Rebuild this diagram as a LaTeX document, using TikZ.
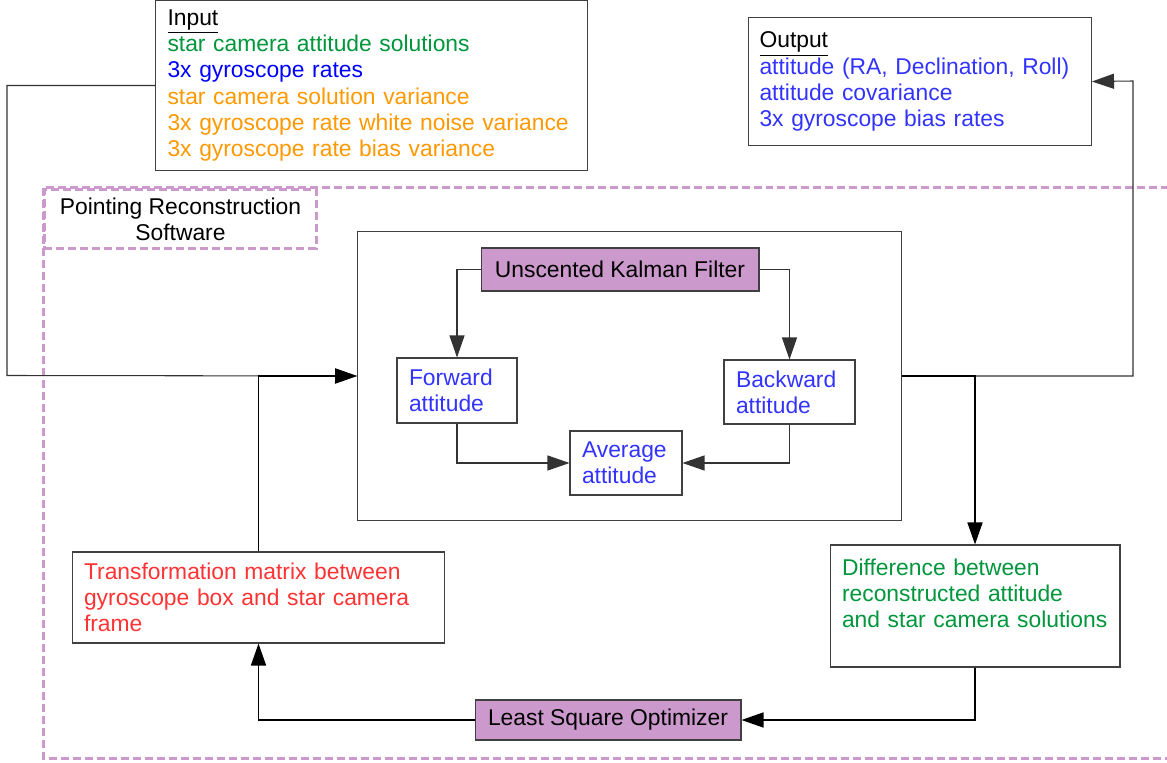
\documentclass[tikz,border=0pt]{standalone}
\usepackage{fontspec}
\setmainfont{Liberation Sans}
\usepackage{xcolor}
\usepackage{tikz}
\usetikzlibrary{arrows.meta}

\definecolor{boxpurple}{HTML}{CC99CC}
\definecolor{ingreen}{HTML}{00963C}
\definecolor{inblue}{HTML}{0000FF}
\definecolor{inorange}{HTML}{FF9900}
\definecolor{outblue}{HTML}{3333FF}
\definecolor{trred}{HTML}{FF3333}

\begin{document}
\begin{tikzpicture}[x=0.02cm,y=-0.02cm,
    every node/.style={font=\fontsize{13}{14.9}\selectfont},
    box/.style={draw=black!75,line width=0.6pt,fill=white,inner xsep=0.24cm,inner ysep=0pt,align=left},
    purplebox/.style={draw=black!75,line width=0.6pt,fill=boxpurple,inner sep=0pt},
    purpledash/.style={draw=boxpurple,line width=0.06cm,dash pattern=on 0.16cm off 0.08cm},
    thinline/.style={draw=black!80,line width=0.6pt,-{Triangle[length=0.44cm,width=0.3cm]}},
    thickline/.style={draw=black,line width=0.9pt,-{Triangle[length=0.44cm,width=0.3cm]}}]

  \useasboundingbox (0,0) rectangle (1167,763);
  \clip (0,0) rectangle (1167,763); % Clips the picture...

  % software frame
  \draw[purpledash] (43,188) rectangle (1200,758);
  \node[purpledash,anchor=north west,minimum width=5.44cm,minimum height=1.18cm,
        inner sep=0pt,align=center] (Label) at (43,188) {Pointing Reconstruction\\Software};

  % input and output
  \node[box,anchor=north west,text width=8.16cm,minimum height=3.4cm] (Input) at (155,0)
    {\underline{Input}\\
     \textcolor{ingreen}{star camera attitude solutions}\\
     \textcolor{inblue}{3x gyroscope rates}\\
     \textcolor{inorange}{star camera solution variance}\\
     \textcolor{inorange}{3x gyroscope rate white noise variance}\\
     \textcolor{inorange}{3x gyroscope rate bias variance}};
  \node[box,anchor=north west,inner xsep=0.22cm,text width=6.42cm,minimum height=2.56cm] (Output) at (748,17)
    {\underline{Output}\\
     \textcolor{outblue}{attitude (RA, Declination, Roll)}\\
     \textcolor{outblue}{attitude covariance}\\
     \textcolor{outblue}{3x gyroscope bias rates}};

  % the filter
  \node[box,anchor=north west,minimum width=10.88cm,minimum height=5.78cm] (Smoother) at (357,231) {};
  \node[purplebox,minimum width=5.56cm,minimum height=0.86cm] (Kalman) at (620,269.5) {Unscented Kalman Filter};
  \node[box,text=outblue,text width=1.92cm,minimum height=1.3cm] (Forward) at (457,390.5) {Forward\\attitude};
  \node[box,text=outblue,text width=2.14cm,minimum height=1.28cm] (Backward) at (789.5,392) {Backward\\attitude};
  \node[box,text=outblue,text width=1.76cm,minimum height=1.28cm] (Average) at (626,463) {Average\\attitude};

  % calibration loop
  \node[box,text=trred,text width=6.98cm,minimum height=1.82cm] (Transform) at (258.5,597.5)
    {Transformation matrix between\\gyroscope box and star camera\\frame};
  \node[box,text=ingreen,text width=5.32cm,minimum height=2.44cm] (Difference) at (975,606)
    {Difference between\\reconstructed attitude\\and star camera solutions\\\mbox{}};
  \node[purplebox,minimum width=5.32cm,minimum height=0.8cm] (Optimizer) at (608,720) {Least Square Optimizer};

  \coordinate (InBend)  at (7,375.5);
  \coordinate (OutBend) at (1133,81);

  % connectors
  \draw[thinline] (Kalman.west) -| (Forward.north);
  \draw[thinline] (Kalman.east) -| (Backward.north);
  \draw[thinline] (Forward.south) |- (Average.west);
  \draw[thinline] (Backward.south) |- (Average.east);
  \draw[thinline] (Input.west) -| (InBend) -- (Smoother.west);
  \draw[thinline] (Smoother.east) -| (OutBend) -- (Output.east);
  \draw[thickline] (Transform.north) |- (Smoother.west);
  \draw[thickline] (Smoother.east) -| (Difference.north);
  \draw[thickline] (Difference.south) |- (Optimizer.east);
  \draw[thickline] (Optimizer.west) -| (Transform.south);

\end{tikzpicture}
\end{document}
